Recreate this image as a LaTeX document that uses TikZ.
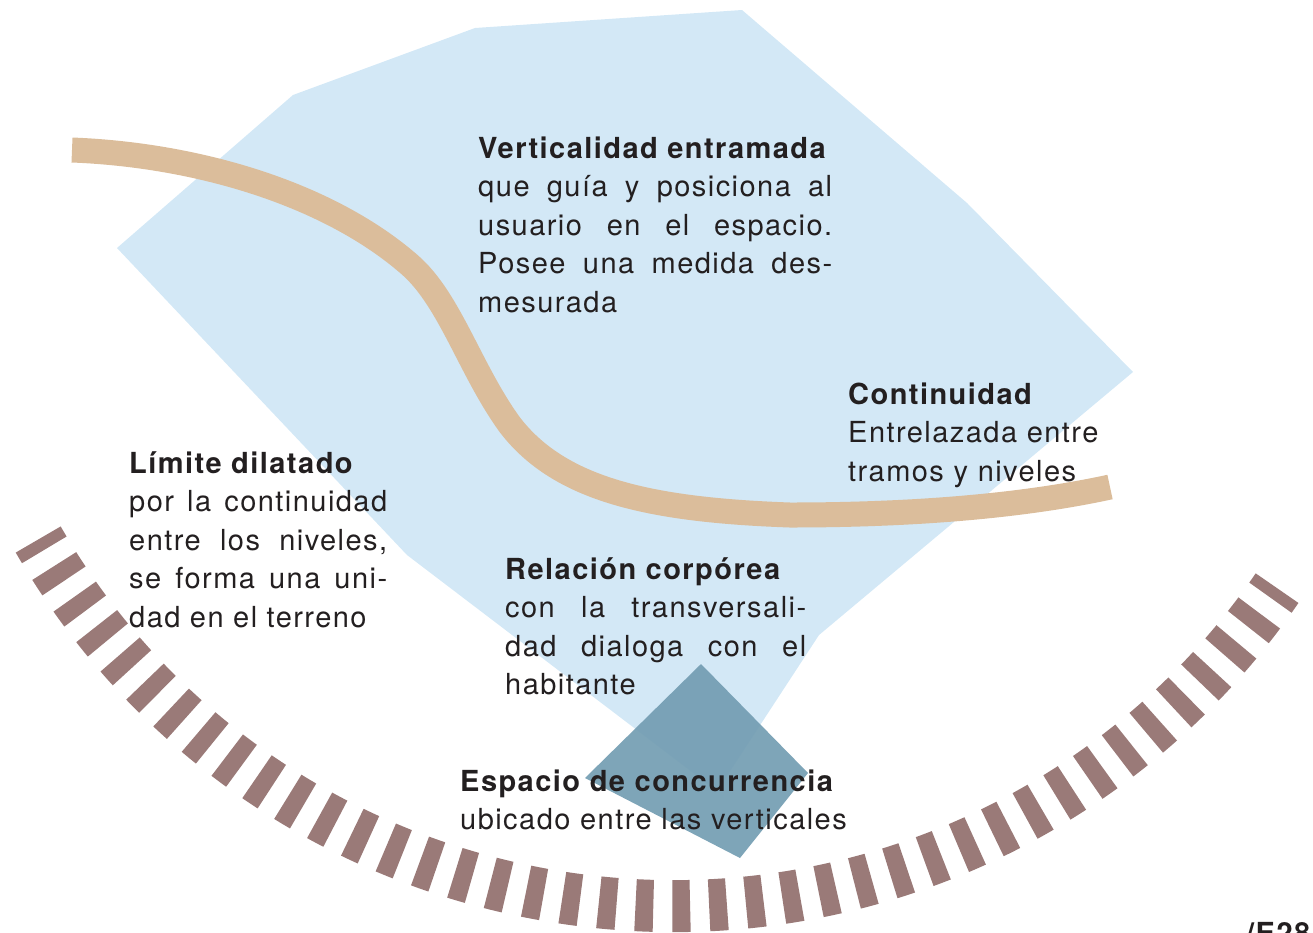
\documentclass[tikz,border=0pt]{standalone}
\usepackage{fontspec}
\setmainfont{TeX Gyre Heros}[LetterSpace=5]
\usetikzlibrary{calc}

\definecolor{cielo}{HTML}{D3E8F6}
\definecolor{arena}{HTML}{DBBD9B}
\definecolor{malva}{HTML}{9A7A78}
\definecolor{pizarra}{HTML}{739DB2}
\definecolor{tinta}{HTML}{231F20}

\begin{document}
\begin{tikzpicture}[x=1pt, y=-1pt,
    txt/.style={inner sep=0pt, anchor=base west, text=tinta,
                font=\fontsize{29}{38.5}\selectfont},
    justo/.style={txt, text width=#1, align=justify},
    suelto/.style={txt, text width=#1, align=left},
    recorrido/.style={draw=arena, line width=25pt},
    borde/.style={draw=malva, line width=52pt,
                  dash pattern=on 17.8pt off 19pt, dash phase=5.8pt}]

    \useasboundingbox (0,0) rectangle (1313,932);
    \clip (0,0) rectangle (1313,932);

    % campo vertical
    \fill[cielo] (293,95) -- (475,28) -- (742,10) -- (967,203) -- (1133,372)
        -- (819,635) -- (717,791) -- (407,555) -- (117,248) -- cycle;

    % recorrido
    \draw[recorrido] (72,150) .. controls (200,155) and (330,195) .. (410,265)
        .. controls (450,300) and (470,370) .. (510,425)
        .. controls (560,490) and (650,510) .. (790,515)
        .. controls (950,515) and (1050,500) .. (1110,487);

    % espacio de concurrencia
    \fill[pizarra, fill opacity=0.92] (701,664) -- (808,773) -- (740,858) -- (585,778) -- cycle;

    % limite
    \coordinate (ctr) at (673,173);
    \draw[borde] ($(ctr)+(210:733pt)$) arc[start angle=210, end angle=325.5, radius=733pt];

    \node[justo=354pt] (verticalidad) at (478,158)
        {\textbf{Verticalidad entramada}\\
         que guía y posiciona al\linebreak
         usuario en el espacio.\linebreak
         Posee una medida des-\linebreak
         mesurada};
    \node[suelto=300pt] (continuidad) at (848,404)
        {\textbf{Continuidad}\\
         Entrelazada entre\\
         tramos y niveles};
    \node[justo=258pt] (limite) at (129,473)
        {\textbf{Límite dilatado}\\
         por la continuidad\linebreak
         entre los niveles,\linebreak
         se forma una uni-\linebreak
         dad en el terreno};
    \node[justo=301pt] (relacion) at (505,579)
        {\textbf{Relación corpórea}\\
         con la transversali-\linebreak
         dad dialoga con el\linebreak
         habitante};
    \node[suelto=420pt] (espacio) at (460,791)
        {\textbf{Espacio de concurrencia}\\
         ubicado entre las verticales};
    \node[txt, font=\fontsize{29}{38.5}\selectfont\bfseries] (pagina) at (1246,943) {/E28};
\end{tikzpicture}
\end{document}
